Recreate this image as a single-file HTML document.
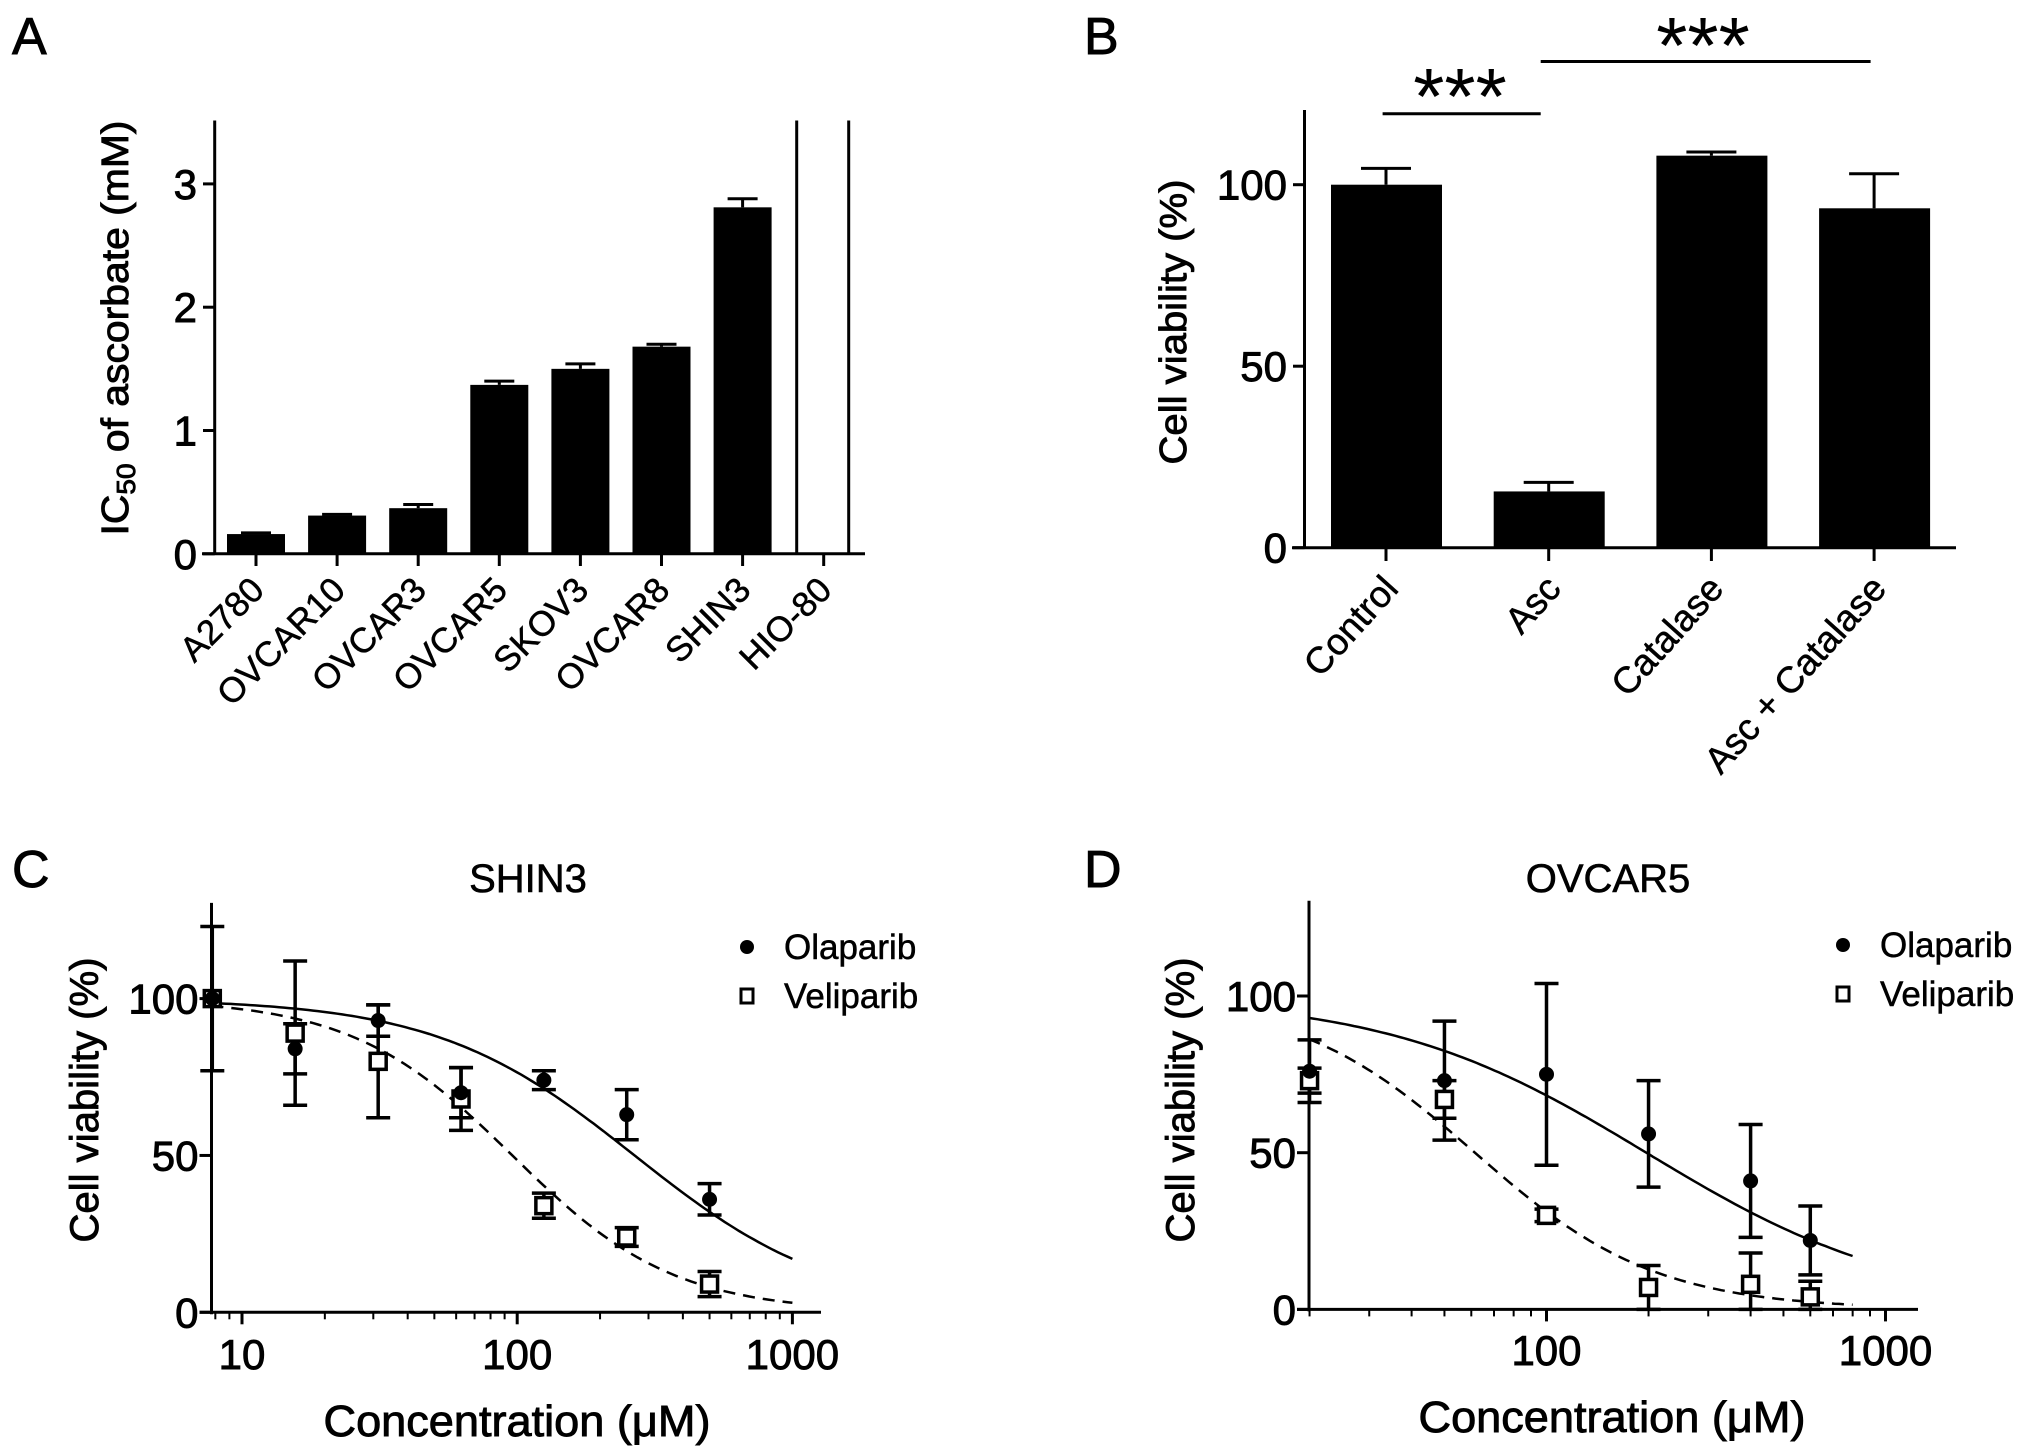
<!DOCTYPE html>
<html><head><meta charset="utf-8"><style>
html,body{margin:0;padding:0;background:#fff;}
svg{display:block;font-family:"Liberation Sans",sans-serif;}
</style></head><body>
<svg id="fig" width="2031" height="1455" viewBox="0 0 2031 1455" xmlns="http://www.w3.org/2000/svg"></svg>
<script>
// ---- Panel A data ----
const A_cats = ["A2780","OVCAR10","OVCAR3","OVCAR5","SKOV3","OVCAR8","SHIN3","HIO-80"];
const A_vals = [0.16,0.31,0.37,1.37,1.50,1.68,2.81,null];
const A_errs = [0.01,0.01,0.03,0.03,0.04,0.02,0.07,null];
const A_yticks = [0,1,2,3];
// ---- Panel B data ----
const B_cats = ["Control","Asc","Catalase","Asc + Catalase"];
const B_vals = [100,15.5,108,93.5];
const B_errs = [4.5,2.5,1,9.5];
const B_yticks = [0,50,100];
// ---- Panel C data ----
const C_x = [7.8,15.6,31.25,62.5,125,250,500];
const C_ola = [100,84,93,70,74,63,36];
const C_olaErr = [0,8,5,8,3,8,5];
const C_vel = [100,89,80,68,34,24,9];
const C_velErr = [23,23,18,10,4,3,4];
const C_olaFit = [267,1.2];
const C_velFit = [96,1.48];
const C_yticks = [0,50,100];
const C_xticks = [10,100,1000];
// ---- Panel D data ----
const D_x = [20,50,100,200,400,600];
const D_ola = [76,73,75,56,41,22];
const D_olaErr = [10,19,29,17,18,11];
const D_vel = [73,67,30,7,8,4];
const D_velErr = [4,6,2,7,10,5];
const D_olaFit = [197,1.13];
const D_velFit = [61.5,1.63];
const D_yticks = [0,50,100];
const D_xticks = [100,1000];

const NS = "http://www.w3.org/2000/svg";
const svg = document.getElementById('fig');
function mk(tag, attrs, parent){
  const e = document.createElementNS(NS, tag);
  for (const k in attrs) e.setAttribute(k, attrs[k]);
  (parent||svg).appendChild(e);
  return e;
}
function line(x1,y1,x2,y2,w,name,extra){
  const e = mk('line',Object.assign({x1:x1,y1:y1,x2:x2,y2:y2,stroke:'#000','stroke-width':w||3},extra||{}));
  
  
  return e;
}
function text(x,y,s,size,anchor,name,extra){
  const e = mk('text',Object.assign({x:x,y:y,'font-size':size,'text-anchor':anchor||'start',fill:'#000'},extra||{}));
  e.textContent = s;
  
  
  return e;
}
const HEAVY = {stroke:'#000','stroke-width':0.9};

// ================= Panel A =================
(function(){
  const y = v => 553.8 - v*123.3;
  const x = i => 256 + i*81.1;
  text(12,54,'A',52,'start','panel-a-label',HEAVY);
  line(214.7,120.5,214.7,555,3,'a-y-axis');
  line(202,553.8,865,553.8,3,'a-x-axis');
  A_yticks.forEach(t=>{
    line(203,y(t),214.7,y(t),3,'a-y-tick');
    text(197,y(t)+15,String(t),42,'end','a-y-tick-label',HEAVY);
  });
  A_cats.forEach((c,i)=>{
    line(x(i),553.8,x(i),566,3,'a-x-tick');
    const lx = x(i)+10, ly = 592;
    text(lx,ly,c,35,'end','a-category-label',Object.assign({transform:`rotate(-45 ${lx} ${ly})`},{stroke:'#000','stroke-width':0.5}));
    if (A_vals[i]!==null){
      const top = y(A_vals[i]+A_errs[i]);
      line(x(i),y(A_vals[i]),x(i),top,3,'a-error-bar');
      line(x(i)-15,top,x(i)+15,top,3,'a-error-cap');
      const r = mk('rect',{x:x(i)-29,y:y(A_vals[i]),width:58,height:553.8-y(A_vals[i]),fill:'#000'});
      
      
    } else {
      line(x(i)-27,120.5,x(i)-27,553.8,3,'a-offscale-bar-left');
      line(x(i)+25,120.5,x(i)+25,553.8,3,'a-offscale-bar-right');
    }
  });
  const yl = text(0,0,'',38,'middle','a-y-axis-title',Object.assign({transform:'translate(128 328) rotate(-90)',textLength:415,lengthAdjust:'spacingAndGlyphs'},HEAVY));
  yl.innerHTML = 'IC<tspan font-size="26" dy="7">50</tspan><tspan dy="-7"> of ascorbate (mM)</tspan>';
})();

// ================= Panel B =================
(function(){
  const y = v => 547.7 - v*3.63;
  const x = i => 1386 + i*162.7;
  text(1084,54,'B',52,'start','panel-b-label',HEAVY);
  line(1304.5,110,1304.5,549,3,'b-y-axis');
  line(1292,547.7,1956,547.7,3,'b-x-axis');
  B_yticks.forEach(t=>{
    line(1293,y(t),1304.5,y(t),3,'b-y-tick');
    text(1287,y(t)+15,String(t),42,'end','b-y-tick-label',HEAVY);
  });
  B_cats.forEach((c,i)=>{
    line(x(i),547.7,x(i),561,3,'b-x-tick');
    const top = y(B_vals[i]+B_errs[i]);
    line(x(i),y(B_vals[i]),x(i),top,3,'b-error-bar');
    line(x(i)-25,top,x(i)+25,top,3,'b-error-cap');
    const r = mk('rect',{x:x(i)-55,y:y(B_vals[i]),width:111,height:547.7-y(B_vals[i]),fill:'#000'});
    
    
    const lx = x(i)+14, ly = 590;
    text(lx,ly,c,37,'end','b-category-label',{transform:`rotate(-48 ${lx} ${ly})`,stroke:'#000','stroke-width':0.5});
  });
  line(1382.6,113.8,1540.7,113.8,3,'b-significance-line-1');
  text(1460,124,'***',80,'middle','b-significance-stars-1');
  line(1540.7,61.5,1870.6,61.5,3,'b-significance-line-2');
  text(1703,73,'***',80,'middle','b-significance-stars-2');
  text(0,0,'Cell viability (%)',38,'middle','b-y-axis-title',Object.assign({transform:'translate(1186 322) rotate(-90)',textLength:285,lengthAdjust:'spacingAndGlyphs'},HEAVY));
})();

// ============ dose-response panels ============
function dosePanel(o){
  const {x,y,pfx} = o;
  text(o.lab[0],o.lab[1],o.letter,52,'start','panel-'+pfx+'-label',HEAVY);
  text(o.title[0],o.title[1],o.titleText,40,'middle',pfx+'-chart-title',{stroke:'#000','stroke-width':0.6});
  line(o.ax0,o.yTop,o.ax0,y(0)+2,3,pfx+'-y-axis');
  line(o.ax0-12,y(0),o.ax1,y(0),3,pfx+'-x-axis');
  o.yticks.forEach(t=>{
    line(o.ax0-12,y(t),o.ax0,y(t),3,pfx+'-y-tick');
    text(o.ax0-13,y(t)+15,String(t),42,'end',pfx+'-y-tick-label',HEAVY);
  });
  for (let d=1; d<=1000; d*=10){
    for (let k=1;k<10;k++){
      const v=d*k, px=x(v);
      if (px<o.ax0-0.5 || px>o.ax1) continue;
      const major = k===1;
      line(px,y(0),px,y(0)+(major?12:7),major?3:2,major?pfx+'-x-major-tick':pfx+'-x-minor-tick');
    }
  }
  o.xticks.forEach(t=>{
    text(x(t),o.xlabY,String(t),42,'middle',pfx+'-x-tick-label',HEAVY);
  });
  function fitPath(p){
    let d='';
    const l0=Math.log10(o.curveStart), l1=Math.log10(o.curveEnd);
    for(let k=0;k<=120;k++){
      const lv=l0+(l1-l0)*k/120, v=Math.pow(10,lv);
      const yy=100/(1+Math.pow(v/p[0],p[1]));
      d+=(k?'L':'M')+x(v).toFixed(1)+' '+y(yy).toFixed(1);
    }
    return d;
  }
  const c1 = mk('path',{d:fitPath(o.olaFit),fill:'none',stroke:'#000','stroke-width':2.5});
  
  
  const c2 = mk('path',{d:fitPath(o.velFit),fill:'none',stroke:'#000','stroke-width':2.5,'stroke-dasharray':'12 8'});
  
  
  o.xs.forEach((xv,i)=>{
    [[o.vel[i],o.velErr[i],'veliparib'],[o.ola[i],o.olaErr[i],'olaparib']].forEach(s=>{
      if (s[1]>0){
        const t=y(s[0]+s[1]), b=y(Math.max(0,s[0]-s[1]));
        line(x(xv),t,x(xv),b,3.5,pfx+'-'+s[2]+'-error-bar');
        line(x(xv)-12,t,x(xv)+12,t,3.5,pfx+'-'+s[2]+'-error-cap-top');
        line(x(xv)-12,b,x(xv)+12,b,3.5,pfx+'-'+s[2]+'-error-cap-bottom');
      }
    });
  });
  o.xs.forEach((xv,i)=>{
    const sq = mk('rect',{x:x(xv)-8,y:y(o.vel[i])-8,width:16,height:16,fill:'#fff',stroke:'#000','stroke-width':3.5});
    
    
    const ci = mk('circle',{cx:x(xv),cy:y(o.ola[i]),r:7.5,fill:'#000'});
    
    
  });
  const lc = mk('circle',{cx:o.leg[0],cy:o.leg[1],r:7,fill:'#000'});
  
  
  text(o.leg[0]+37,o.leg[1]+12,'Olaparib',35,'start',pfx+'-legend-olaparib',{stroke:'#000','stroke-width':0.5});
  const ls = mk('rect',{x:o.leg[0]-6,y:o.leg[1]+42,width:12,height:14,fill:'#fff',stroke:'#000','stroke-width':3});
  
  
  text(o.leg[0]+37,o.leg[1]+61,'Veliparib',35,'start',pfx+'-legend-veliparib',{stroke:'#000','stroke-width':0.5});
  text(o.xt[0],o.xt[1],'Concentration (μM)',44,'middle',pfx+'-x-axis-title',Object.assign({textLength:387,lengthAdjust:'spacingAndGlyphs'},HEAVY));
  text(0,0,'Cell viability (%)',40,'middle',pfx+'-y-axis-title',Object.assign({transform:`translate(${o.yt[0]} ${o.yt[1]}) rotate(-90)`,textLength:o.ytLen,lengthAdjust:'spacingAndGlyphs'},HEAVY));
}

dosePanel({
  pfx:'c', letter:'C', lab:[12,887], titleText:'SHIN3', title:[528,892],
  x: v => 242 + (Math.log10(v)-1)*275.2,
  y: v => 1312.3 - v*3.137,
  ax0:211.5, ax1:821, yTop:902.9, yticks:C_yticks, xticks:C_xticks, xlabY:1369,
  xs:C_x, ola:C_ola, olaErr:C_olaErr, vel:C_vel, velErr:C_velErr,
  olaFit:C_olaFit, velFit:C_velFit, curveStart:7.74, curveEnd:1000,
  leg:[747,947], xt:[517,1436], yt:[98,1100], ytLen:285
});
dosePanel({
  pfx:'d', letter:'D', lab:[1084,887], titleText:'OVCAR5', title:[1608,892],
  x: v => 1546.5 + (Math.log10(v)-2)*339,
  y: v => 1309.4 - v*3.134,
  ax0:1309, ax1:1918, yTop:900.8, yticks:D_yticks, xticks:D_xticks, xlabY:1365,
  xs:D_x, ola:D_ola, olaErr:D_olaErr, vel:D_vel, velErr:D_velErr,
  olaFit:D_olaFit, velFit:D_velFit, curveStart:19.9, curveEnd:800,
  leg:[1843,945], xt:[1612,1432], yt:[1194,1100], ytLen:285
});
</script>
</body></html>
